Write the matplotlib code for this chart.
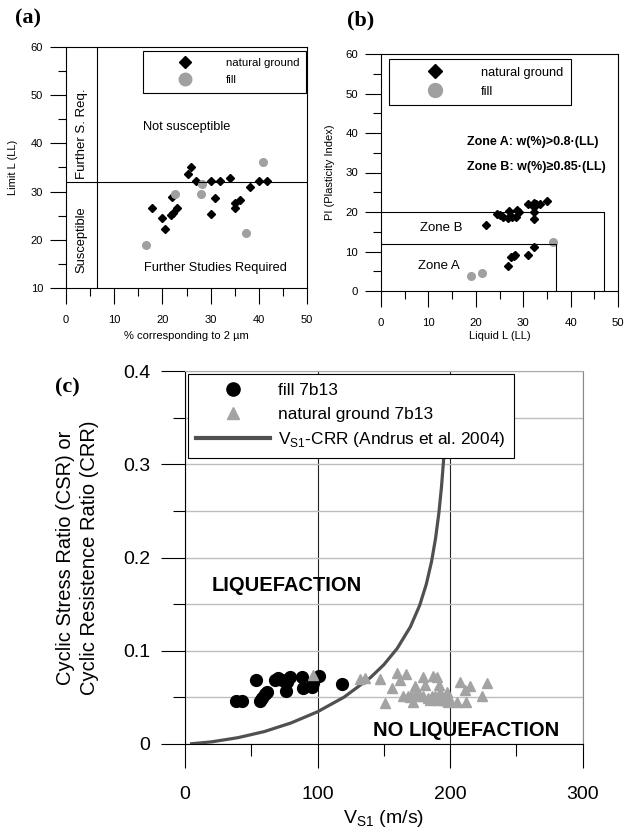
import matplotlib
matplotlib.use("Agg")
import matplotlib.pyplot as plt
from matplotlib.lines import Line2D
from matplotlib.ticker import MultipleLocator

plt.rcParams['font.family'] = ['Liberation Sans', 'DejaVu Sans']
SERIF = ['Liberation Serif', 'DejaVu Serif']
GREY = '#a0a0a0'

# (a) clay fraction vs liquid limit
clay_nat = [17.9, 20.0, 20.5, 21.7, 22.1, 21.9, 23.0, 25.4, 26.0, 27.0, 30.0,
            30.0, 31.0, 32.0, 34.0, 35.0, 35.0, 36.0, 38.1, 40.0, 41.6]
ll_nat_a = [26.6, 24.5, 22.2, 25.2, 25.5, 28.9, 26.7, 33.7, 35.0, 32.1, 32.3,
            25.4, 28.7, 32.1, 32.9, 26.7, 27.6, 28.3, 30.9, 32.1, 32.2]
clay_fill = [16.6, 22.6, 28.2, 28.0, 37.4, 40.8]
ll_fill_a = [19.0, 29.5, 31.6, 29.5, 21.4, 36.2]
clay_limit = 6.5
ll_limit = 32

# (b) liquid limit vs plasticity index
ll_nat = [22.1, 24.4, 25.1, 25.7, 26.8, 26.9, 27.6, 28.5, 28.7, 29.2, 31.0, 32.2,
          32.3, 32.2, 32.7, 33.6, 35.0, 32.2, 26.8, 27.5, 28.0, 28.3, 31.0, 32.2]
pi_nat = [16.6, 19.6, 19.2, 18.7, 18.5, 20.3, 18.7, 18.8, 20.5, 20.0, 21.9, 22.2,
          21.2, 20.1, 21.9, 21.9, 22.7, 18.3, 6.4, 8.5, 8.9, 9.2, 9.0, 11.1]
ll_fill = [19.0, 21.4, 36.3]
pi_fill = [3.8, 4.6, 12.3]
zone_a = (37, 12)   # (LL, PI) corner of zone A
zone_b = (47, 20)   # (LL, PI) corner of zone B

# (c) Vs1 vs CSR / CRR
vs_fill = [38.5, 42.8, 53.6, 56.6, 57.9, 60.4, 61.6, 67.9, 70.4, 72.9, 76.2,
           76.7, 79.2, 88.0, 88.8, 95.6, 96.8, 101.3, 118.7]
csr_fill = [0.046, 0.046, 0.069, 0.046, 0.049, 0.054, 0.056, 0.069, 0.071, 0.069,
            0.057, 0.067, 0.072, 0.072, 0.060, 0.061, 0.065, 0.073, 0.064]
vs_nat = [96.8, 132.0, 135.8, 147.1, 155.9, 150.9, 159.7, 162.2, 166.7, 164.7,
          169.7, 173.5, 175.3, 172.2, 179.8, 181.1, 179.8, 187.3, 189.9, 191.9,
          188.6, 197.4, 194.4, 199.9, 205.0, 207.5, 211.2, 215.0, 212.0, 223.8,
          227.6, 171.0, 177.3, 183.6, 184.8, 186.1, 191.1, 193.7, 196.2, 198.6,
          192.4, 168.5]
csr_nat = [0.074, 0.070, 0.071, 0.070, 0.060, 0.044, 0.076, 0.069, 0.075, 0.052,
           0.050, 0.062, 0.056, 0.045, 0.072, 0.063, 0.051, 0.073, 0.072, 0.063,
           0.051, 0.056, 0.047, 0.047, 0.045, 0.066, 0.058, 0.062, 0.045, 0.052,
           0.065, 0.051, 0.051, 0.049, 0.047, 0.052, 0.047, 0.048, 0.047, 0.045,
           0.056, 0.052]
vs_crr = [5, 20, 40, 60, 80, 100, 120, 140, 150, 160, 170, 177, 182, 186, 189,
          191.5, 193.5, 195, 196.5]
crr = [0.0003, 0.0023, 0.0068, 0.0134, 0.0226, 0.0346, 0.0503, 0.0714, 0.0851,
       0.1024, 0.1257, 0.1487, 0.1713, 0.1959, 0.2206, 0.2478, 0.2762, 0.3035, 0.338]

fig = plt.figure(figsize=(6.32, 8.27), dpi=100)


def small_axes(ax, ylim, ticksize):
    ax.set_xlim(0, 50)
    ax.set_ylim(*ylim)
    ax.xaxis.set_major_locator(MultipleLocator(10))
    ax.xaxis.set_minor_locator(MultipleLocator(5))
    ax.yaxis.set_major_locator(MultipleLocator(10))
    ax.yaxis.set_minor_locator(MultipleLocator(5))
    ax.tick_params(which='major', direction='out', length=11.5, width=0.8,
                   labelsize=ticksize)
    ax.tick_params(which='minor', direction='out', length=5.5, width=0.8)
    ax.tick_params(axis='x', which='major', pad=8)
    ax.tick_params(axis='y', which='major', pad=5)
    for sp in ax.spines.values():
        sp.set_linewidth(0.8)


# ---- (a)
ax1 = fig.add_axes([66 / 632, 1 - 288 / 827, 241 / 632, 241 / 827])
ax1.plot(clay_nat, ll_nat_a, 'D', color='black', ms=4.2, ls='none')
ax1.plot(clay_fill, ll_fill_a, 'o', color=GREY, ms=5.5, ls='none')
ax1.axvline(clay_limit, color='black', lw=0.8)
ax1.axhline(ll_limit, color='black', lw=0.8)
small_axes(ax1, (10, 60), 8)
ax1.text(25, 43.3, 'Not susceptible', fontsize=9.2, ha='center', va='center')
ax1.text(30.9, 14.2, 'Further Studies Required', fontsize=9.2, ha='center', va='center')
ax1.text(3.3, 42.1, 'Further S. Req.', fontsize=9.5, rotation=90,
         ha='center', va='center')
ax1.text(3.3, 20.0, 'Susceptible', fontsize=9.3, rotation=90,
         ha='center', va='center')
ax1.set_xlabel('% corresponding to 2 µm', fontsize=8, va='center')
ax1.set_ylabel('Limit L (LL)', fontsize=8, va='center')
ax1.xaxis.set_label_coords(0.5, -0.2)
ax1.yaxis.set_label_coords(-0.22, 0.5)
leg_handles = [Line2D([], [], marker='D', color='black', ls='none', ms=6.5),
               Line2D([], [], marker='o', color=GREY, ls='none', ms=9)]
leg = ax1.legend(leg_handles, ['natural ground', 'fill'], loc='upper left',
                 bbox_to_anchor=(0.3195, 0.9834), borderaxespad=0, fancybox=False,
                 edgecolor='black', framealpha=1, fontsize=8.2,
                 handlelength=6.0, handletextpad=0.6, labelspacing=0.6, borderpad=0.65)
leg.get_frame().set_linewidth(0.8)
fig.text(28 / 632, 1 - 18 / 827, '(a)', family=SERIF, fontweight='bold', fontsize=16,
         ha='center', va='center')

# ---- (b)
ax2 = fig.add_axes([381 / 632, 1 - 291 / 827, 237 / 632, 237 / 827])
ax2.plot(ll_nat, pi_nat, 'D', color='black', ms=3.6, ls='none')
ax2.plot(ll_fill, pi_fill, 'o', color=GREY, ms=5.5, ls='none')
for ll_c, pi_c in (zone_b, zone_a):
    ax2.plot([0, ll_c, ll_c], [pi_c, pi_c, 0], color='black', lw=0.8)
small_axes(ax2, (0, 60), 8.2)
ax2.text(12.8, 15.9, 'Zone B', fontsize=9.5, ha='center', va='center')
ax2.text(12.2, 6.4, 'Zone A', fontsize=9.5, ha='center', va='center')
ax2.text(18.1, 37.8, 'Zone A: w(%)>0.8·(LL)', fontsize=9, fontweight='bold',
         ha='left', va='center')
ax2.text(18.1, 31.5, 'Zone B: w(%)≥0.85·(LL)', fontsize=9, fontweight='bold',
         ha='left', va='center')
ax2.set_xlabel('Liquid L (LL)', fontsize=8, va='center')
ax2.set_ylabel('PI (Plasticity Index)', fontsize=8, va='center')
ax2.xaxis.set_label_coords(0.5, -0.19)
ax2.yaxis.set_label_coords(-0.215, 0.5)
leg_handles = [Line2D([], [], marker='D', color='black', ls='none', ms=7),
               Line2D([], [], marker='o', color=GREY, ls='none', ms=10)]
leg = ax2.legend(leg_handles, ['natural ground', 'fill'], loc='upper left',
                 bbox_to_anchor=(0.0338, 0.979), borderaxespad=0, fancybox=False,
                 edgecolor='black', framealpha=1, fontsize=9.2,
                 handlelength=6.0, handletextpad=0.6, labelspacing=0.55, borderpad=0.6)
leg.get_frame().set_linewidth(0.8)
fig.text(361 / 632, 1 - 20 / 827, '(b)', family=SERIF, fontweight='bold', fontsize=16,
         ha='center', va='center')

# ---- (c)
ax3 = fig.add_axes([185 / 632, 1 - 744 / 827, 397.7 / 632, 372.8 / 827])
ax3.set_xlim(0, 300)
ax3.set_ylim(0, 0.4)
ax3.xaxis.set_major_locator(MultipleLocator(100))
ax3.xaxis.set_minor_locator(MultipleLocator(50))
ax3.yaxis.set_minor_locator(MultipleLocator(0.05))
ax3.set_yticks([0, 0.1, 0.2, 0.3, 0.4], ['0', '0.1', '0.2', '0.3', '0.4'])
ax3.yaxis.grid(True, which='both', color='#bdbdbd', lw=1.0)
ax3.xaxis.grid(True, which='major', color='#222222', lw=0.8)
ax3.set_axisbelow(True)
ax3.tick_params(which='major', direction='out', length=17, width=0.8, labelsize=14)
ax3.tick_params(which='minor', direction='out', length=8.5, width=0.8)
ax3.tick_params(axis='x', which='major', pad=13)
ax3.tick_params(axis='y', which='major', pad=8)
ax3.spines['top'].set_color('#aaaaaa')
ax3.spines['right'].set_color('#888888')
for sp in ax3.spines.values():
    sp.set_linewidth(0.8)

ax3.plot(vs_crr, crr, color='#505050', lw=2.3, zorder=3)
ax3.plot(vs_fill, csr_fill, 'o', color='black', ms=8.5, ls='none', zorder=4)
ax3.plot(vs_nat, csr_nat, '^', color='#a3a3a3', ms=7, ls='none', zorder=4)
ax3.text(20, 0.17, 'LIQUEFACTION', fontsize=14.5, fontweight='bold', ha='left', va='center')
ax3.text(141.6, 0.015, 'NO LIQUEFACTION', fontsize=14.5, fontweight='bold',
         ha='left', va='center')
ax3.set_xlabel(r'V$_{\mathregular{S1}}$ (m/s)', fontsize=14, va='center')
ax3.xaxis.set_label_coords(0.5, -0.1985)
ax3.set_ylabel('Cyclic Stress Ratio (CSR) or\nCyclic Resistence Ratio (CRR)',
               fontsize=14.5, linespacing=1.3, va='center')
ax3.yaxis.set_label_coords(-0.27, 0.5)

leg_handles = [Line2D([], [], marker='o', color='black', ls='none', ms=9.5),
               Line2D([], [], marker='^', color='#a3a3a3', ls='none', ms=8),
               Line2D([], [], color='#505050', lw=3)]
leg = ax3.legend(leg_handles, ['fill 7b13', 'natural ground 7b13',
                               r'V$_{\mathregular{S1}}$-CRR (Andrus et al. 2004)'],
                 loc='upper left', bbox_to_anchor=(0.0068, 0.9917), borderaxespad=0,
                 fancybox=False, edgecolor='black', framealpha=1, fontsize=12.4,
                 handlelength=4.3, handletextpad=0.45, labelspacing=0.5, borderpad=0.5)
leg.get_frame().set_linewidth(0.8)
leg.set_zorder(10)
fig.text(67 / 632, 1 - 387 / 827, '(c)', family=SERIF, fontweight='bold', fontsize=16,
         ha='center', va='center')

fig.savefig('out.png', dpi=100)
